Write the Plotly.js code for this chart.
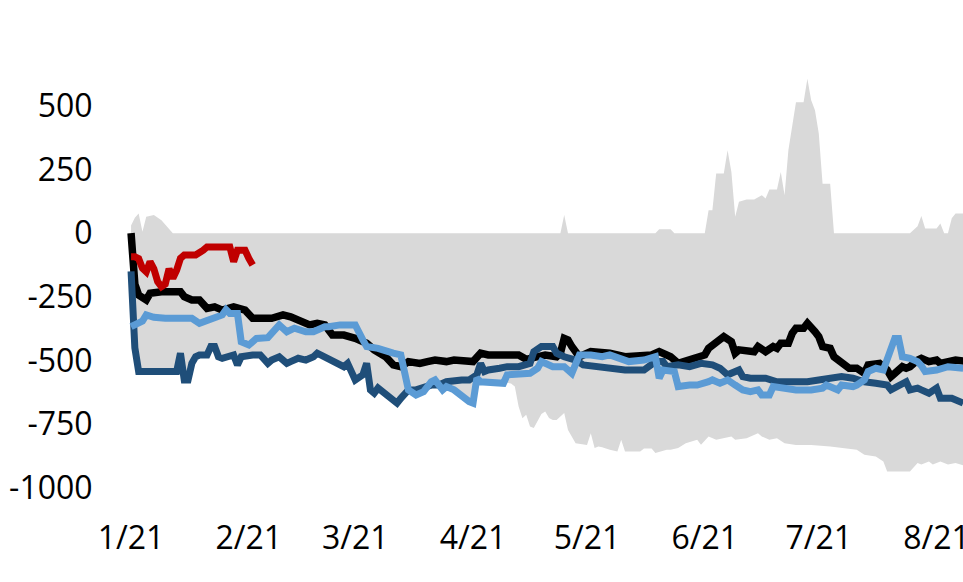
<!DOCTYPE html>
<html>
<head>
<meta charset="utf-8">
<script src="https://cdn.plot.ly/plotly-3.0.1.min.js"></script>
<style>html,body{margin:0;padding:0;background:#fff;overflow:hidden}#chart{width:963px;height:582px}</style>
</head>
<body>
<div id="chart"></div>
<script>
// ---- month ticks ----
const monthTicks = ["2021-01-01","2021-02-01","2021-03-01","2021-04-01","2021-05-01","2021-06-01","2021-07-01","2021-08-01"];
const monthLabels = ["1/21","2/21","3/21","4/21","5/21","6/21","7/21","8/21"];
const yTickVals = [-1000,-750,-500,-250,0,250,500];
const yTickText = ["-1000","-750","-500","-250","0","250","500"];

// ---- gray range band: upper bound ----
const bandUpperDates = ["2021-01-01","2021-01-02","2021-01-03","2021-01-04","2021-01-05","2021-01-07","2021-01-09","2021-01-12",
 "2021-04-24","2021-04-25","2021-04-26","2021-05-19","2021-05-20","2021-05-23","2021-05-24","2021-06-01","2021-06-02","2021-06-03",
 "2021-06-04","2021-06-06","2021-06-07","2021-06-08","2021-06-09","2021-06-10","2021-06-12","2021-06-14","2021-06-16","2021-06-17",
 "2021-06-18","2021-06-20","2021-06-21","2021-06-22","2021-06-23","2021-06-25","2021-06-27","2021-06-28","2021-06-29","2021-06-30",
 "2021-07-01","2021-07-02","2021-07-04","2021-07-05","2021-07-25","2021-07-26","2021-07-27","2021-07-28","2021-07-29","2021-08-01",
 "2021-08-02","2021-08-03","2021-08-04","2021-08-05","2021-08-06","2021-08-09"];
const bandUpper = [30,60,77,5,64,71,51,0,
 0,71,0,0,15,15,0,0,90,90,
 234,234,325,240,64,123,132,132,149,136,
 171,171,240,149,325,514,514,606,521,482,
 391,194,194,0,0,12,27,67,18,18,
 38,0,0,58,77,77];

// ---- gray range band: lower bound ----
const bandLowerDates = ["2021-01-01","2021-01-02","2021-01-03","2021-01-13","2021-01-14","2021-01-15","2021-01-16","2021-01-17","2021-01-19",
 "2021-01-21","2021-01-22","2021-01-23","2021-01-24","2021-01-25","2021-01-28","2021-01-29","2021-01-30","2021-02-04","2021-02-06",
 "2021-02-07","2021-02-09","2021-02-11","2021-02-14","2021-02-18","2021-02-19","2021-02-21","2021-02-24","2021-02-26","2021-02-28",
 "2021-03-01","2021-03-03","2021-03-04","2021-03-05","2021-03-06","2021-03-07","2021-03-09","2021-03-12","2021-03-13","2021-03-15",
 "2021-03-17","2021-03-19","2021-03-21","2021-03-23","2021-03-24","2021-03-25","2021-03-27","2021-03-29","2021-03-31","2021-04-01",
 "2021-04-02","2021-04-03","2021-04-06","2021-04-09","2021-04-11","2021-04-12","2021-04-13","2021-04-14","2021-04-15","2021-04-16",
 "2021-04-17","2021-04-19","2021-04-20","2021-04-21","2021-04-22","2021-04-23","2021-04-25","2021-04-26","2021-04-28","2021-05-01",
 "2021-05-02","2021-05-03","2021-05-04","2021-05-05","2021-05-07","2021-05-09","2021-05-10","2021-05-11","2021-05-15","2021-05-16",
 "2021-05-18","2021-05-19","2021-05-22","2021-05-23","2021-05-25","2021-05-27","2021-05-30","2021-05-31","2021-06-02","2021-06-04",
 "2021-06-08","2021-06-09","2021-06-12","2021-06-14","2021-06-15","2021-06-16","2021-06-18","2021-06-20","2021-06-22","2021-06-25",
 "2021-06-29","2021-07-04","2021-07-07","2021-07-11","2021-07-13","2021-07-16","2021-07-18","2021-07-19","2021-07-25","2021-07-27",
 "2021-07-28","2021-07-30","2021-07-31","2021-08-02","2021-08-04","2021-08-06","2021-08-09"];
const bandLower = [-150,-450,-540,-540,-480,-570,-570,-505,-475,
 -475,-440,-440,-480,-487,-475,-512,-480,-475,-505,
 -494,-480,-505,-487,-480,-467,-480,-505,-518,-530,
 -570,-550,-505,-610,-622,-602,-630,-660,-642,-612,
 -630,-616,-590,-592,-610,-598,-610,-636,-656,-662,
 -565,-578,-585,-585,-590,-602,-680,-726,-713,-759,
 -765,-710,-700,-725,-733,-733,-706,-772,-824,-831,
 -785,-843,-837,-840,-850,-857,-811,-857,-857,-845,
 -845,-863,-850,-850,-843,-824,-811,-830,-798,-811,
 -798,-811,-805,-791,-785,-798,-811,-805,-824,-831,
 -831,-837,-843,-850,-870,-876,-896,-935,-935,-902,
 -908,-896,-908,-896,-908,-902,-915];

// ---- black series ----
const blackDates = ["2021-01-01","2021-01-02","2021-01-03","2021-01-05","2021-01-06","2021-01-09","2021-01-14","2021-01-15","2021-01-17",
 "2021-01-19","2021-01-21","2021-01-23","2021-01-25","2021-01-28","2021-01-31","2021-02-02","2021-02-07","2021-02-10","2021-02-12",
 "2021-02-14","2021-02-17","2021-02-19","2021-02-21","2021-02-23","2021-02-26","2021-03-01","2021-03-04","2021-03-06","2021-03-09",
 "2021-03-11","2021-03-13","2021-03-15","2021-03-18","2021-03-20","2021-03-22","2021-03-25","2021-03-27","2021-04-01","2021-04-03",
 "2021-04-05","2021-04-09","2021-04-13","2021-04-15","2021-04-18","2021-04-20","2021-04-23","2021-04-24","2021-04-25","2021-04-26",
 "2021-04-27","2021-04-28","2021-04-29","2021-05-02","2021-05-04","2021-05-07","2021-05-11","2021-05-15","2021-05-18","2021-05-20",
 "2021-05-23","2021-05-25","2021-05-28","2021-05-30","2021-06-01","2021-06-02","2021-06-04","2021-06-06","2021-06-08","2021-06-09",
 "2021-06-10","2021-06-14","2021-06-15","2021-06-17","2021-06-19","2021-06-20","2021-06-21","2021-06-23","2021-06-24","2021-06-25",
 "2021-06-27","2021-06-28","2021-06-30","2021-07-01","2021-07-02","2021-07-04","2021-07-05","2021-07-07","2021-07-09","2021-07-11",
 "2021-07-13","2021-07-14","2021-07-17","2021-07-19","2021-07-20","2021-07-21","2021-07-23","2021-07-24","2021-07-25","2021-07-27",
 "2021-07-28","2021-07-30","2021-08-01","2021-08-02","2021-08-04","2021-08-06","2021-08-09"];
const blackVals = [0,-200,-243,-262,-236,-230,-230,-249,-262,
 -262,-295,-289,-302,-289,-302,-334,-334,-321,-328,
 -341,-360,-354,-360,-400,-400,-413,-432,-458,-485,
 -517,-524,-504,-511,-504,-498,-504,-498,-504,-471,
 -478,-478,-478,-495,-485,-478,-485,-471,-413,-419,
 -445,-465,-485,-465,-465,-471,-485,-485,-478,-465,
 -485,-511,-498,-485,-478,-452,-426,-406,-426,-471,
 -458,-465,-445,-465,-445,-452,-432,-432,-393,-373,
 -373,-354,-387,-406,-445,-452,-485,-511,-530,-530,
 -550,-517,-511,-537,-563,-550,-524,-530,-524,-498,
 -491,-504,-498,-511,-504,-498,-504];

// ---- dark blue series ----
const darkDates = ["2021-01-01","2021-01-02","2021-01-03","2021-01-13","2021-01-14","2021-01-15","2021-01-16","2021-01-17","2021-01-18",
 "2021-01-19","2021-01-21","2021-01-22","2021-01-23","2021-01-24","2021-01-25","2021-01-27","2021-01-28","2021-01-29","2021-01-30",
 "2021-02-02","2021-02-04","2021-02-06","2021-02-07","2021-02-09","2021-02-11","2021-02-12","2021-02-14","2021-02-16","2021-02-18",
 "2021-02-19","2021-02-21","2021-02-22","2021-02-24","2021-02-26","2021-02-27","2021-02-28","2021-03-01","2021-03-03","2021-03-04",
 "2021-03-05","2021-03-06","2021-03-07","2021-03-09","2021-03-11","2021-03-12","2021-03-13","2021-03-15","2021-03-17","2021-03-19",
 "2021-03-21","2021-03-23","2021-03-25","2021-03-29","2021-03-31","2021-04-02","2021-04-03","2021-04-04","2021-04-05","2021-04-08",
 "2021-04-10","2021-04-13","2021-04-16","2021-04-17","2021-04-19","2021-04-22","2021-04-23","2021-04-25","2021-04-28","2021-04-30",
 "2021-05-04","2021-05-11","2021-05-16","2021-05-19","2021-05-21","2021-05-22","2021-05-25","2021-05-28","2021-05-31","2021-06-03",
 "2021-06-05","2021-06-07","2021-06-10","2021-06-11","2021-06-13","2021-06-17","2021-06-20","2021-06-24","2021-06-26","2021-06-28",
 "2021-07-01","2021-07-04","2021-07-07","2021-07-10","2021-07-13","2021-07-16","2021-07-19","2021-07-20","2021-07-22","2021-07-24",
 "2021-07-25","2021-07-27","2021-07-28","2021-07-30","2021-08-01","2021-08-02","2021-08-05","2021-08-08"];
const darkVals = [-150,-450,-543,-543,-471,-576,-576,-511,-485,
 -478,-478,-445,-445,-485,-491,-478,-478,-517,-485,
 -478,-478,-511,-498,-485,-511,-504,-491,-498,-485,
 -471,-485,-498,-511,-524,-511,-537,-576,-556,-511,
 -615,-628,-608,-635,-654,-667,-648,-615,-615,-602,
 -596,-596,-583,-576,-576,-556,-511,-543,-537,-530,
 -524,-524,-511,-465,-445,-445,-471,-485,-498,-517,
 -524,-537,-537,-504,-504,-524,-517,-524,-511,-517,
 -530,-556,-537,-563,-569,-569,-583,-583,-580,-583,
 -576,-569,-563,-569,-583,-589,-596,-615,-602,-583,
 -615,-608,-615,-628,-608,-648,-648,-667];

// ---- light blue series ----
const lightDates = ["2021-01-01","2021-01-03","2021-01-04","2021-01-05","2021-01-07","2021-01-10","2021-01-17","2021-01-19","2021-01-21",
 "2021-01-23","2021-01-25","2021-01-26","2021-01-27","2021-01-29","2021-01-30","2021-02-01","2021-02-03","2021-02-06","2021-02-08",
 "2021-02-09","2021-02-11","2021-02-13","2021-02-16","2021-02-18","2021-02-21","2021-02-22","2021-02-25","2021-03-01","2021-03-03",
 "2021-03-04","2021-03-07","2021-03-09","2021-03-11","2021-03-13","2021-03-14","2021-03-15","2021-03-17","2021-03-19","2021-03-21",
 "2021-03-22","2021-03-24","2021-03-25","2021-03-27","2021-03-29","2021-03-31","2021-04-01","2021-04-02","2021-04-03","2021-04-06",
 "2021-04-09","2021-04-10","2021-04-13","2021-04-16","2021-04-18","2021-04-19","2021-04-22","2021-04-25","2021-04-27","2021-04-28",
 "2021-04-29","2021-05-02","2021-05-05","2021-05-07","2021-05-09","2021-05-10","2021-05-12","2021-05-16","2021-05-18","2021-05-19",
 "2021-05-20","2021-05-21","2021-05-24","2021-05-25","2021-05-28","2021-05-30","2021-06-02","2021-06-03","2021-06-05","2021-06-07",
 "2021-06-09","2021-06-11","2021-06-13","2021-06-15","2021-06-16","2021-06-18","2021-06-19","2021-06-21","2021-06-25","2021-06-29",
 "2021-07-02","2021-07-03","2021-07-06","2021-07-07","2021-07-10","2021-07-11","2021-07-13","2021-07-14","2021-07-16","2021-07-18",
 "2021-07-20","2021-07-21","2021-07-22","2021-07-23","2021-07-25","2021-07-27","2021-07-28","2021-07-29","2021-08-01","2021-08-04",
 "2021-08-08"];
const lightVals = [-367,-355,-345,-321,-330,-334,-334,-354,-341,
 -328,-321,-300,-315,-315,-426,-439,-413,-410,-373,
 -360,-387,-373,-387,-387,-367,-367,-360,-360,-419,
 -445,-452,-465,-471,-478,-543,-615,-635,-622,-583,
 -576,-615,-602,-615,-641,-661,-667,-569,-583,-589,
 -589,-556,-556,-550,-530,-504,-524,-524,-550,-511,
 -478,-478,-485,-478,-491,-491,-504,-498,-491,-485,
 -569,-537,-543,-602,-596,-596,-583,-576,-589,-576,
 -596,-615,-622,-615,-635,-635,-602,-608,-615,-615,
 -608,-596,-615,-596,-602,-596,-576,-543,-530,-537,
 -458,-413,-413,-485,-491,-504,-520,-543,-537,-524,
 -530];

// ---- red series ----
const redDates = ["2021-01-01","2021-01-02","2021-01-03","2021-01-04","2021-01-05","2021-01-06","2021-01-07","2021-01-08","2021-01-09",
 "2021-01-10","2021-01-11","2021-01-12","2021-01-13","2021-01-14","2021-01-15","2021-01-18","2021-01-20","2021-01-21","2021-01-27",
 "2021-01-28","2021-01-29","2021-01-31","2021-02-01","2021-02-02"];
const redVals = [-93,-93,-100,-138,-152,-112,-140,-190,-210,
 -200,-140,-177,-145,-99,-86,-86,-67,-54,-54,
 -112,-67,-67,-99,-125];

const FONT = "'Open Sans', 'Noto Sans', sans-serif";

function lineTrace(x, y, color, w) {
  return {x: x, y: y, type: 'scatter', mode: 'lines', line: {color: color, width: w, shape: 'linear'}, hoverinfo: 'skip'};
}

const traces = [
  {x: bandLowerDates, y: bandLower, type: 'scatter', mode: 'lines', line: {width: 0, color: '#d9d9d9'}, hoverinfo: 'skip'},
  {x: bandUpperDates, y: bandUpper, type: 'scatter', mode: 'lines', fill: 'tonexty', fillcolor: '#d9d9d9', line: {width: 0, color: '#d9d9d9'}, hoverinfo: 'skip'},
  lineTrace(blackDates, blackVals, '#000000', 7.5),
  lineTrace(darkDates, darkVals, '#1f4e79', 7),
  lineTrace(lightDates, lightVals, '#5b9bd5', 7),
  lineTrace(redDates, redVals, '#c00000', 7)
];

const layout = {
  width: 963, height: 582,
  margin: {l: 110, r: 0, t: 42, b: 94, pad: 0},
  paper_bgcolor: '#ffffff', plot_bgcolor: '#ffffff',
  showlegend: false,
  font: {family: FONT, size: 32, color: '#000000'},
  xaxis: {
    type: 'date',
    range: ['2020-12-26 11:00', '2021-08-07 23:00'],
    tickmode: 'array', tickvals: monthTicks, ticktext: monthLabels,
    showgrid: false, zeroline: false, showline: false,
    ticks: 'outside', ticklen: 22, tickcolor: 'rgba(0,0,0,0)',
    ticklabeloverflow: 'allow',
    tickfont: {family: FONT, size: 32, color: '#000000'},
    automargin: false, fixedrange: true
  },
  yaxis: {
    range: [-1000, 750],
    tickmode: 'array', tickvals: yTickVals, ticktext: yTickText,
    showgrid: false, zeroline: false, showline: false,
    ticks: 'outside', ticklen: 10, tickcolor: 'rgba(0,0,0,0)',
    tickfont: {family: FONT, size: 32, color: '#000000'},
    automargin: false, fixedrange: true
  }
};

Plotly.newPlot('chart', traces, layout, {staticPlot: true, displayModeBar: false});
</script>
</body>
</html>
